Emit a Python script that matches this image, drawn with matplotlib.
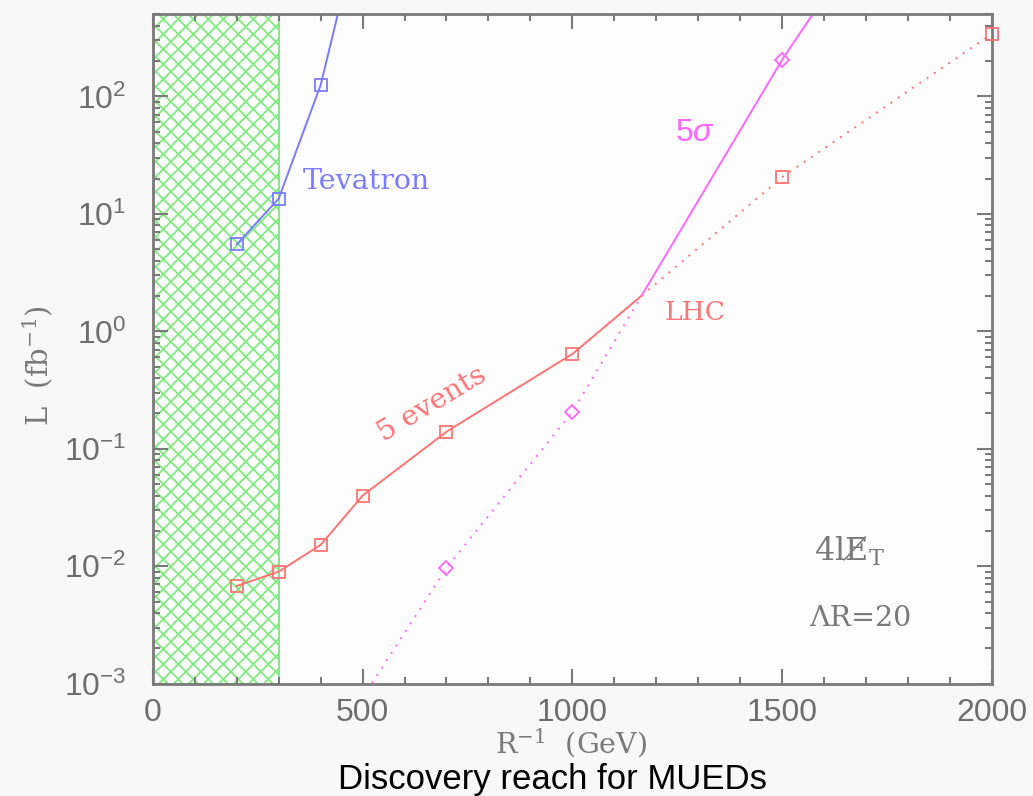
import numpy as np
import matplotlib.pyplot as plt
from matplotlib.ticker import MultipleLocator, LogLocator, NullFormatter
from matplotlib.collections import LineCollection
from matplotlib.transforms import IdentityTransform

# discovery reach vs R^-1 (GeV), luminosity in fb^-1
tev_x = [200, 300, 400, 500]
tev_L = [5.5, 13.5, 125, 3700]

lhc_x = [200, 300, 400, 500, 700, 1000, 1500, 2000]
lhc_L = [0.0068, 0.0090, 0.0152, 0.040, 0.140, 0.64, 20.5, 340]      # 5 events

sig_x = [500, 700, 1000, 1500, 2000]
sig_L = [0.00076, 0.0097, 0.205, 205, 9.0e4]                           # 5 sigma

excluded = (0, 300)   # hatched region

gray = '#7a7a7a'
blue = '#7b7bff'
red = '#ff7373'
mag = '#ff66ff'
green = '#80ea80'

plt.rcParams['font.family'] = ['Liberation Sans', 'DejaVu Sans']
plt.rcParams['mathtext.fontset'] = 'custom'
plt.rcParams['mathtext.rm'] = 'Liberation Sans'
plt.rcParams['mathtext.it'] = 'Liberation Sans:italic'

fig = plt.figure(figsize=(10.33, 7.96), dpi=100, facecolor='#f8f8f8')
ax = fig.add_axes([0.148, 0.141, 0.812, 0.841])
ax.set_facecolor('#fdfdfd')
ax.set_yscale('log')
ax.set_xlim(0, 2000)
ax.set_ylim(1e-3, 500)
ylo, yhi = ax.get_ylim()

# excluded band: outline plus a cross-hatch drawn in pixel space
band = ax.axvspan(excluded[0], excluded[1], facecolor='none', edgecolor=green,
                  lw=1.4, zorder=1)
px0, py0 = ax.transData.transform((excluded[0], ylo))
px1, py1 = ax.transData.transform((excluded[1], yhi))
step = 15.0
segs = []
for c in np.arange(py0 - (px1 - px0), py1 + step, step):
    segs.append([(px0, c), (px1, c + (px1 - px0))])
    segs.append([(px0, c + (px1 - px0)), (px1, c)])
hatch = LineCollection(segs, colors=green, linewidths=1.3, transform=IdentityTransform(),
                       zorder=1)
hatch.set_clip_path(band)
ax.add_collection(hatch, autolim=False)

# reach = the larger of the two LHC requirements: solid where it wins
grid = np.linspace(0, 2000, 4001)
lr = np.interp(grid, lhc_x, np.log10(lhc_L), left=np.nan)
ls = np.interp(grid, sig_x, np.log10(sig_L), left=np.nan)
red_top = ~(ls > lr)
mag_top = ls >= lr
red_top = red_top | np.roll(red_top, 1)
mag_top = mag_top | np.roll(mag_top, 1)

ax.plot(grid, np.where(red_top, 10**lr, np.nan), color=red, lw=1.4)
ax.plot(grid, np.where(~red_top | np.roll(~red_top, -1), 10**lr, np.nan),
        color=red, lw=1.4, ls=(0, (1, 3.5)))
ax.plot(grid, np.where(mag_top, 10**ls, np.nan), color=mag, lw=1.4)
ax.plot(grid, np.where(~mag_top | np.roll(~mag_top, -1), 10**ls, np.nan),
        color=mag, lw=1.4, ls=(0, (1, 3.5)))
ax.plot(tev_x, tev_L, color=blue, lw=1.4)


def markers(xs, ys, m, c):
    xs, ys = np.array(xs), np.array(ys)
    keep = (ys >= ylo) & (ys <= yhi)
    ax.plot(xs[keep], ys[keep], ls='none', marker=m, mfc='none', mec=c,
            ms=8 if m == 's' else 7, mew=1.3, clip_on=False, zorder=5)


markers(tev_x, tev_L, 's', blue)
markers(lhc_x, lhc_L, 's', red)
markers(sig_x, sig_L, 'D', mag)

serif = ['DejaVu Serif']
ax.text(357, 19, 'Tevatron', color=blue, fontsize=20.5, family=serif, va='center')
ax.text(1292, 1.45, 'LHC', color=red, fontsize=19, family=serif, ha='center', va='center')
ax.text(1292, 49, r'5$\sigma$', color=mag, fontsize=23, ha='center', va='center')
ax.text(665, 0.24, '5 events', color=red, fontsize=20.5, family=serif,
        rotation=31, ha='center', va='center')
ax.text(1661, 0.0135, '4lE\u0338$_{\\rm T}$', color=gray, fontsize=23, family=serif,
        math_fontfamily='dejavuserif', ha='center', va='center')
ax.text(1686, 0.0036, '\u039bR=20', color=gray, fontsize=20.5, family=serif,
        ha='center', va='center')

for s in ax.spines.values():
    s.set_color(gray)
    s.set_linewidth(2)
ax.xaxis.set_major_locator(MultipleLocator(500))
ax.xaxis.set_minor_locator(MultipleLocator(100))
ax.yaxis.set_minor_locator(LogLocator(subs=np.arange(2, 10), numticks=20))
ax.yaxis.set_minor_formatter(NullFormatter())
ax.tick_params(which='both', direction='in', top=True, right=True, color=gray,
               labelcolor='#6e6e6e', labelsize=23, width=1.5)
ax.tick_params(which='major', length=11)
ax.tick_params(which='minor', length=5)
ax.tick_params(axis='x', pad=10)
ax.tick_params(axis='y', pad=19)

fig.text(0.036, 0.541, 'L  (fb$^{-1}$)', rotation=90, color=gray, fontsize=21,
         family=serif, math_fontfamily='dejavuserif', ha='center', va='center')
fig.text(0.553, 0.066, 'R$^{-1}$  (GeV)', color=gray, fontsize=20.5, family=serif,
         math_fontfamily='dejavuserif', ha='center', va='center')
fig.text(0.535, 0.021, 'Discovery reach for MUEDs', color='black', fontsize=25,
         ha='center', va='center')

fig.savefig('out.png', dpi=100, facecolor=fig.get_facecolor())
